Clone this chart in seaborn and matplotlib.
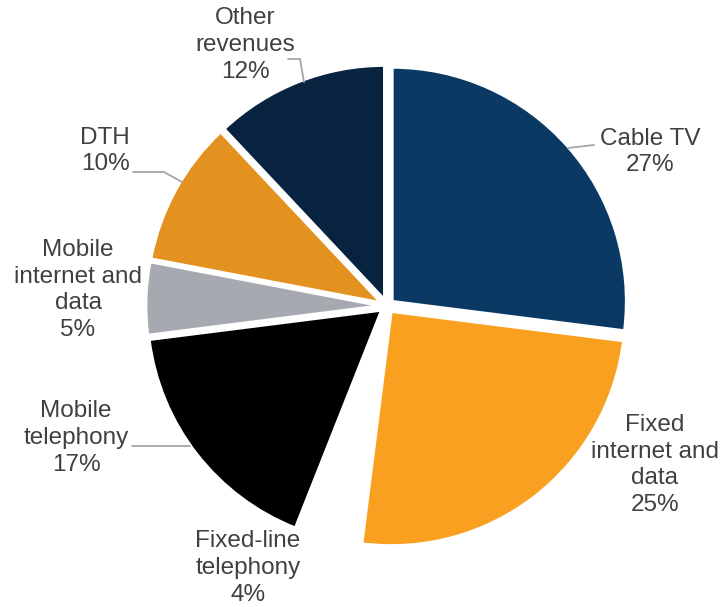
import matplotlib
matplotlib.use("Agg")
import matplotlib.pyplot as plt
import seaborn as sns

sns.set_theme(style="white")
plt.rcParams['font.family'] = ['Liberation Sans', 'DejaVu Sans']

# ---- data ----
categories = ["Cable TV", "Fixed internet and data", "Fixed-line telephony",
              "Mobile telephony", "Mobile internet and data", "DTH", "Other revenues"]
label_texts = ["Cable TV\n27%", "Fixed\ninternet and\ndata\n25%", "Fixed-line\ntelephony\n4%",
               "Mobile\ntelephony\n17%", "Mobile\ninternet and\ndata\n5%", "DTH\n10%",
               "Other\nrevenues\n12%"]
shares = [27, 25, 4, 17, 5, 10, 12]
colors = ["#0A3A64", "#F9A021", "#FFFFFF", "#000000", "#A6A9B0", "#E3921F", "#08233F"]

# ---- layout (pixels) ----
W, H = 724, 607
CX, CY, R = 387, 306, 234

def px(x, y):
    return ((x - CX) / R, (CY - y) / R)

label_pos = [(650, 152), (655, 465), (248, 568), (76, 438), (78, 290), (105, 151), (245, 45)]
leaders = {
    0: [(568, 148), (594, 145)],
    3: [(132, 446), (190, 446)],
    5: [(133, 172), (164, 172), (182, 182)],
    6: [(288, 59), (300, 59), (304, 82)],
}

fig = plt.figure(figsize=(W / 100, H / 100), dpi=100)
ax = fig.add_axes([0, 0, 1, 1])
ax.pie(shares, colors=colors, startangle=90, counterclock=False,
       explode=[0.03] * len(shares), radius=1.0,
       wedgeprops=dict(edgecolor="white", linewidth=2.0))
ax.set_xlim(-CX / R, (W - CX) / R)
ax.set_ylim(-(H - CY) / R, CY / R)
ax.set_aspect("equal")
ax.axis("off")

for i, txt in enumerate(label_texts):
    x, y = px(*label_pos[i])
    ax.text(x, y, txt, ha="center", va="center", fontsize=17.5,
            color="#404040", linespacing=1.28)

for i, pts in leaders.items():
    xs, ys = zip(*[px(*p) for p in pts])
    ax.plot(xs, ys, color="#A6A6A6", linewidth=1.3)

fig.savefig("out.png", dpi=100, facecolor="white")
